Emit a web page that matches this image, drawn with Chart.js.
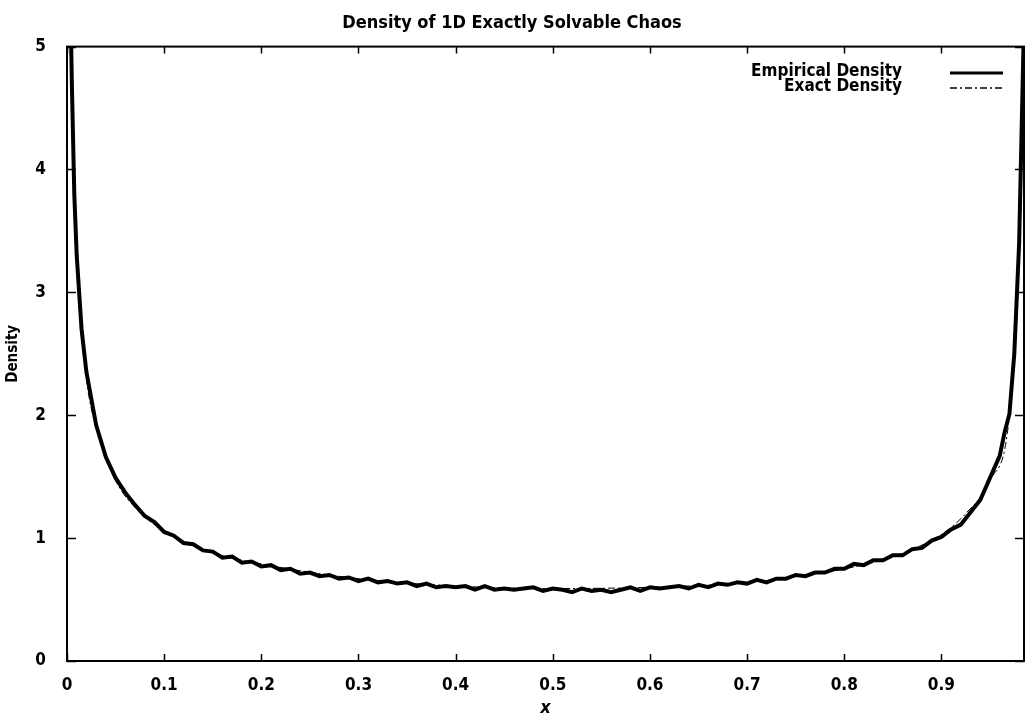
<!DOCTYPE html>
<html>
<head>
<meta charset="utf-8">
<title>Density of 1D Exactly Solvable Chaos</title>
<script src="https://cdn.jsdelivr.net/npm/chart.js@4.4.1/dist/chart.umd.min.js"></script>
<style>
  html, body { margin: 0; padding: 0; background: #fff; }
  canvas { display: block; }
</style>
</head>
<body>
<canvas id="densityChart" width="1027" height="720"></canvas>
<script>
const FONT = "'Liberation Sans Narrow', 'DejaVu Sans Condensed', 'Liberation Sans', sans-serif";

// empirical density (histogram)
const empiricalX = [0.003, 0.005, 0.0075, 0.01, 0.0125, 0.015, 0.02, 0.03, 0.04, 0.05,
    0.06, 0.07, 0.08, 0.09, 0.10, 0.11, 0.12, 0.13, 0.14, 0.15,
    0.16, 0.17, 0.18, 0.19, 0.20, 0.21, 0.22, 0.23, 0.24, 0.25,
    0.26, 0.27, 0.28, 0.29, 0.30, 0.31, 0.32, 0.33, 0.34, 0.35,
    0.36, 0.37, 0.38, 0.39, 0.40, 0.41, 0.42, 0.43, 0.44, 0.45,
    0.46, 0.47, 0.48, 0.49, 0.50, 0.51, 0.52, 0.53, 0.54, 0.55,
    0.56, 0.57, 0.58, 0.59, 0.60, 0.61, 0.62, 0.63, 0.64, 0.65,
    0.66, 0.67, 0.68, 0.69, 0.70, 0.71, 0.72, 0.73, 0.74, 0.75,
    0.76, 0.77, 0.78, 0.79, 0.80, 0.81, 0.82, 0.83, 0.84, 0.85,
    0.86, 0.87, 0.88, 0.89, 0.90, 0.91, 0.92, 0.93, 0.94, 0.95,
    0.96, 0.965, 0.97, 0.975, 0.98, 0.985];
const empiricalY = [5.6, 4.7, 3.8, 3.3, 3.0, 2.7, 2.35, 1.92, 1.66, 1.49,
    1.37, 1.27, 1.18, 1.13, 1.05, 1.02, 0.96, 0.95, 0.90, 0.89,
    0.84, 0.85, 0.80, 0.81, 0.77, 0.78, 0.74, 0.75, 0.71, 0.72,
    0.69, 0.70, 0.67, 0.68, 0.65, 0.67, 0.64, 0.65, 0.63, 0.64,
    0.61, 0.63, 0.60, 0.61, 0.60, 0.61, 0.58, 0.61, 0.58, 0.59,
    0.58, 0.59, 0.60, 0.57, 0.59, 0.58, 0.56, 0.59, 0.57, 0.58,
    0.56, 0.58, 0.60, 0.57, 0.60, 0.59, 0.60, 0.61, 0.59, 0.62,
    0.60, 0.63, 0.62, 0.64, 0.63, 0.66, 0.64, 0.67, 0.67, 0.70,
    0.69, 0.72, 0.72, 0.75, 0.75, 0.79, 0.78, 0.82, 0.82, 0.86,
    0.86, 0.91, 0.92, 0.98, 1.01, 1.07, 1.11, 1.21, 1.31, 1.49,
    1.67, 1.86, 2.01, 2.5, 3.4, 5.2];

// exact density, smooth curve under the histogram
const exactX = [0.003, 0.005, 0.01, 0.02, 0.03, 0.05, 0.075, 0.1, 0.15, 0.2,
    0.3, 0.4, 0.5, 0.6, 0.7, 0.8, 0.85, 0.9, 0.925, 0.95, 0.97, 0.98, 0.985];
const exactY = [5.6, 4.6, 3.25, 2.3, 1.9, 1.47, 1.21, 1.06, 0.88, 0.79,
    0.67, 0.61, 0.59, 0.6, 0.64, 0.75, 0.85, 1.03, 1.2, 1.47, 2.0, 3.3, 5.2];

const xTicks = [0, 0.1, 0.2, 0.3, 0.4, 0.5, 0.6, 0.7, 0.8, 0.9];
const yTicks = [0, 1, 2, 3, 4, 5];

const legendItems = ['Empirical Density', 'Exact Density'];

// box, inward ticks (mirrored) and the legend inside the plot, gnuplot style
const framePlugin = {
    id: 'frame',
    afterDatasetsDraw(chart) {
        const { ctx, chartArea: a, scales: { x, y } } = chart;
        ctx.save();
        ctx.strokeStyle = '#000';
        ctx.lineWidth = 2;
        ctx.strokeRect(a.left, a.top, a.right - a.left, a.bottom - a.top);

        ctx.lineWidth = 1.5;
        ctx.beginPath();
        xTicks.forEach(v => {
            const px = Math.round(x.getPixelForValue(v)) + 0.5;
            ctx.moveTo(px, a.bottom); ctx.lineTo(px, a.bottom - 7);
            ctx.moveTo(px, a.top); ctx.lineTo(px, a.top + 7);
        });
        yTicks.forEach(v => {
            const py = Math.round(y.getPixelForValue(v)) + 0.5;
            ctx.moveTo(a.left, py); ctx.lineTo(a.left + 9, py);
            ctx.moveTo(a.right, py); ctx.lineTo(a.right - 9, py);
        });
        ctx.stroke();

        // legend
        ctx.font = 'bold 17px ' + FONT;
        ctx.fillStyle = '#000';
        ctx.textAlign = 'right';
        ctx.textBaseline = 'middle';
        const rows = [72, 87];
        legendItems.forEach((label, i) => {
            ctx.fillText(label, 902, rows[i]);
            const ds = chart.data.datasets[i];
            ctx.lineWidth = i === 0 ? 3 : 1.5;
            ctx.setLineDash(ds.borderDash || []);
            ctx.beginPath();
            ctx.moveTo(950, rows[i] + 1);
            ctx.lineTo(1003, rows[i] + 1);
            ctx.stroke();
        });
        ctx.restore();
    }
};

const ctx = document.getElementById('densityChart').getContext('2d');
new Chart(ctx, {
    type: 'line',
    data: {
        datasets: [{
            label: legendItems[0],
            data: empiricalX.map((v, i) => ({ x: v, y: empiricalY[i] })),
            borderColor: '#000',
            borderWidth: 4,
            pointRadius: 0,
            tension: 0
        }, {
            label: legendItems[1],
            data: exactX.map((v, i) => ({ x: v, y: exactY[i] })),
            borderColor: '#000',
            borderWidth: 1,
            borderDash: [7, 3, 2, 3],
            pointRadius: 0,
            cubicInterpolationMode: 'monotone'
        }]
    },
    options: {
        responsive: false,
        animation: false,
        layout: { padding: { left: 0, right: 3, top: 0, bottom: 0 } },
        plugins: {
            legend: { display: false },
            tooltip: { enabled: false },
            title: {
                display: true,
                text: 'Density of 1D Exactly Solvable Chaos',
                color: '#000',
                font: { family: FONT, size: 18, weight: 'bold' },
                padding: { top: 13, bottom: 12 }
            }
        },
        scales: {
            x: {
                type: 'linear',
                min: 0,
                max: 0.985,
                grid: { display: false },
                border: { display: false },
                afterFit(scale) { scale.height = 59; },
                afterBuildTicks(scale) { scale.ticks = xTicks.map(v => ({ value: v })); },
                ticks: {
                    color: '#000',
                    padding: 6,
                    maxRotation: 0,
                    font: { family: FONT, size: 17, weight: 'bold' },
                    callback: v => v === 0 ? '0' : v.toFixed(1)
                },
                title: {
                    display: true,
                    text: 'x',
                    color: '#000',
                    font: { family: FONT, size: 18, weight: 'bold', style: 'italic' },
                    padding: { top: 0, bottom: 1 }
                }
            },
            y: {
                min: 0,
                max: 5,
                grid: { display: false },
                border: { display: false },
                afterFit(scale) { scale.width = 67; },
                afterBuildTicks(scale) { scale.ticks = yTicks.map(v => ({ value: v })); },
                ticks: {
                    color: '#000',
                    padding: 13,
                    font: { family: FONT, size: 17, weight: 'bold' }
                },
                title: {
                    display: true,
                    text: 'Density',
                    color: '#000',
                    font: { family: FONT, size: 15, weight: 'bold' },
                    padding: { top: 4, bottom: 0 }
                }
            }
        }
    },
    plugins: [framePlugin]
});
</script>
</body>
</html>
